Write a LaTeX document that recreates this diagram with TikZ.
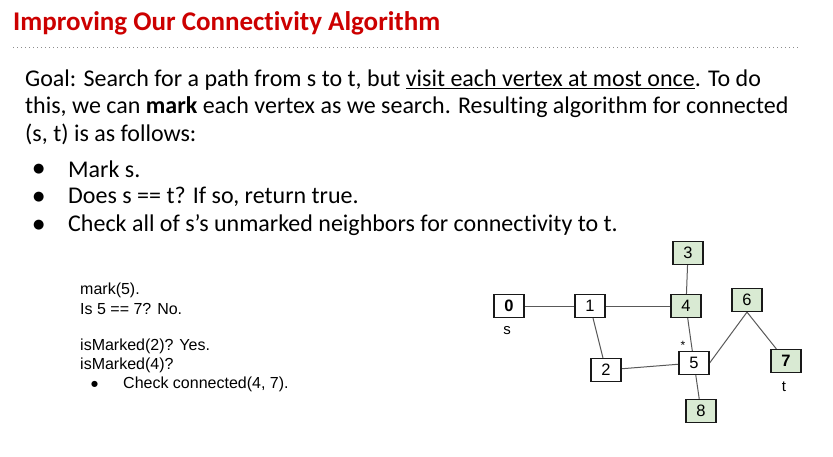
\documentclass[tikz,border=0pt]{standalone}
\usepackage{fontspec}
\setmainfont{Carlito}[Ligatures=NoCommon]
\newfontfamily\arialfont{Liberation Sans}
\newfontfamily\symfont{DejaVu Sans}
\usepackage{xcolor}
\usepackage{tikz}
\usetikzlibrary{positioning,backgrounds}
\definecolor{titlered}{HTML}{CC0000}
\definecolor{markgreen}{HTML}{D9EAD3}
\tikzstyle{vertex} = [draw=black!90,line width=1.2pt,fill=white,minimum width=30pt,minimum height=23pt,inner sep=0pt,font=\arialfont\fontsize{16.5}{16}\selectfont]
\tikzstyle{marked} = [vertex,fill=markgreen]
\tikzstyle{edge} = [draw=black!65,line width=1pt]
\tikzstyle{bodyline} = [anchor=west,inner sep=0pt,font=\fontsize{24}{28}\selectfont]
\tikzstyle{traceline} = [anchor=west,inner sep=0pt,font=\arialfont\fontsize{16}{18}\selectfont]

\begin{document}
\begin{tikzpicture}[x=1pt,y=-1pt]
	\useasboundingbox (0,0) rectangle (833,456);
	
	% Title and dotted rule:
	\node [anchor=west,inner sep=0pt,text=titlered,font=\bfseries\fontsize{27}{30}\selectfont] (title) at (13,23) {Improving Our Connectivity Algorithm};
	\draw [black!45,line width=0.8pt,dash pattern=on 0.8pt off 3.2pt] (13,47) -- (800,47);
	
	% Goal paragraph:
	\node [bodyline] (goalA) at (25,80) {Goal: Search for a path from s to t, but \underline{visit each vertex at most once}. To do};
	\node [bodyline] (goalB) at (25,107) {this, we can \textbf{mark} each vertex as we search. Resulting algorithm for connected};
	\node [bodyline] (goalC) at (25,134) {(s, t) is as follows:};
	
	% Bullets:
	\foreach \y/\txt/\nm in {169/{Mark s.}/stepA, 197/{Does s == t? If so, return true.}/stepB, 225/{Check all of s’s unmarked neighbors for connectivity to t.}/stepC}
	{
		\node [bodyline] (\nm dot) at (33,\y) {\symfont\fontsize{13}{13}\selectfont ●};
		\node [bodyline] (\nm) at (68,\y) {\txt};
	}
	
	% Trace of the call:
	\node [traceline] (traceA) at (80,290) {mark(5).};
	\node [traceline] (traceB) at (80,309) {Is 5 == 7? No.};
	\node [traceline] (traceC) at (80,346) {isMarked(2)? Yes.};
	\node [traceline] (traceD) at (80,365) {isMarked(4)?};
	\node [traceline] (traceEdot) at (91,384) {\symfont\fontsize{8}{8}\selectfont ●};
	\node [traceline] (traceE) at (123,384) {Check connected(4, 7).};
	
	% Graph:
	\node [vertex] (v0) at (509,306) {\textbf{0}};
	\node [vertex] (v1) at (590,306) {1};
	\node [vertex] (v2) at (606,370) {2};
	\node [marked] (v3) at (688,253) {3};
	\node [marked] (v4) at (686,306) {4};
	\node [vertex] (v5) at (694,363) {5};
	\node [marked] (v6) at (747,300) {6};
	\node [marked] (v7) at (786,361) {\textbf{7}};
	\node [marked] (v8) at (701,411) {8};
	
	\node [font=\arialfont\fontsize{15}{16}\selectfont,inner sep=0pt] (slabel) at (507,331) {s};
	\node [font=\arialfont\fontsize{15}{16}\selectfont,inner sep=0pt] (tlabel) at (784,387) {t};
	\node [font=\arialfont\fontsize{12}{12}\selectfont,inner sep=0pt] (star) at (683,345) {*};
	
	\begin{scope}[on background layer]
		\draw [edge] (v0) -- (v1);
		\draw [edge] (v1) -- (v4);
		\draw [edge] (v3) -- (v4);
		\draw [edge] (v1) -- (v2);
		\draw [edge] (v2) -- (v5);
		\draw [edge] (v4) -- (v5);
		\draw [edge] (v5.east) -- (v6.south);
		\draw [edge] (v6.south) -- (v7);
		\draw [edge] (v5) -- (v8);
	\end{scope}
	
\end{tikzpicture}
\end{document}
